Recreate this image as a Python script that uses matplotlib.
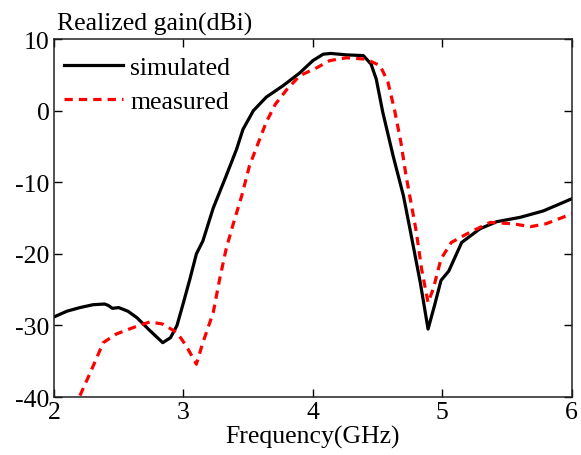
import matplotlib.pyplot as plt
import numpy as np

plt.rcParams['font.family'] = ['Liberation Serif', 'DejaVu Serif']
plt.rcParams['axes.unicode_minus'] = False

# simulated gain (GHz, dBi)
sim_freq = [2.00, 2.10, 2.20, 2.30, 2.39, 2.42, 2.45, 2.50, 2.57, 2.64, 2.74, 2.84, 2.90,
            2.95, 3.00, 3.05, 3.10, 3.15, 3.23, 3.33, 3.41, 3.46, 3.54, 3.64, 3.77,
            3.90, 4.00, 4.08, 4.14, 4.26, 4.39, 4.45, 4.49, 4.54, 4.62, 4.70, 4.75,
            4.83, 4.89, 4.94, 4.99, 5.05, 5.15, 5.29, 5.42, 5.60, 5.78, 5.91, 6.00]
sim_gain = [-28.8, -28.0, -27.5, -27.1, -27.0, -27.2, -27.6, -27.5, -28.0, -28.9, -30.7, -32.4, -31.7,
            -30.0, -26.8, -23.5, -20.0, -18.2, -13.6, -9.1, -5.4, -2.6, 0.0, 1.9, 3.5,
            5.3, 7.0, 7.9, 8.0, 7.8, 7.7, 6.5, 4.4, -0.2, -6.3, -11.9, -16.5,
            -24.0, -30.5, -27.2, -23.7, -22.4, -18.4, -16.5, -15.5, -14.9, -14.0, -13.0, -12.3]

# measured gain (GHz, dBi)
meas_freq = [2.20, 2.28, 2.38, 2.48, 2.61, 2.74, 2.84, 2.95, 3.02, 3.10, 3.15, 3.23, 3.28,
             3.33, 3.38, 3.45, 3.51, 3.58, 3.64, 3.71, 3.80, 3.90, 4.03, 4.13, 4.26,
             4.41, 4.52, 4.58, 4.63, 4.68, 4.72, 4.77, 4.80, 4.84, 4.89, 4.93, 4.99,
             5.07, 5.19, 5.37, 5.55, 5.68, 5.80, 5.93, 6.00]
meas_gain = [-39.8, -36.6, -32.4, -31.2, -30.3, -29.5, -29.8, -31.0, -32.8, -35.4, -32.4, -28.2, -23.5,
             -19.3, -16.1, -11.9, -7.7, -4.4, -1.6, 0.9, 3.0, 4.9, 6.0, 7.0, 7.4,
             7.2, 6.3, 4.0, 0.2, -4.4, -9.1, -14.0, -17.0, -22.1, -26.8, -24.9, -20.7,
             -18.4, -17.2, -15.6, -15.8, -16.2, -15.8, -14.9, -14.4]

fig = plt.figure(figsize=(5.81, 4.56), dpi=100)
ax = fig.add_axes([0.093, 0.127, 0.891, 0.785])

ax.plot(sim_freq, sim_gain, '-', color='black', linewidth=2.3, label='simulated')
ax.plot(meas_freq, meas_gain, '--', color='red', linewidth=2.3, dashes=(2.6, 1.9), label='measured')

ax.set_xlim(2, 6)
ax.set_ylim(-40, 10)
ax.set_xticks([2, 3, 4, 5, 6])
ax.set_yticks([-40, -30, -20, -10, 0, 10])
ax.tick_params(direction='in', length=6, width=1, labelsize=18.5, top=True, right=True, pad=3)
for s in ax.spines.values():
    s.set_linewidth(1.1)
    s.set_color('#222222')

ax.set_xlabel('Frequency(GHz)', fontsize=18.5, labelpad=1)
fig.text(0.098, 0.932, 'Realized gain(dBi)', fontsize=18.5, ha='left', va='baseline')

ax.legend(loc='upper left', bbox_to_anchor=(0.0, 0.982), frameon=False, fontsize=18.5,
          handlelength=2.3, handletextpad=0.27, labelspacing=0.45, borderaxespad=0.2, borderpad=0.2)

fig.savefig('out.png', dpi=100)
